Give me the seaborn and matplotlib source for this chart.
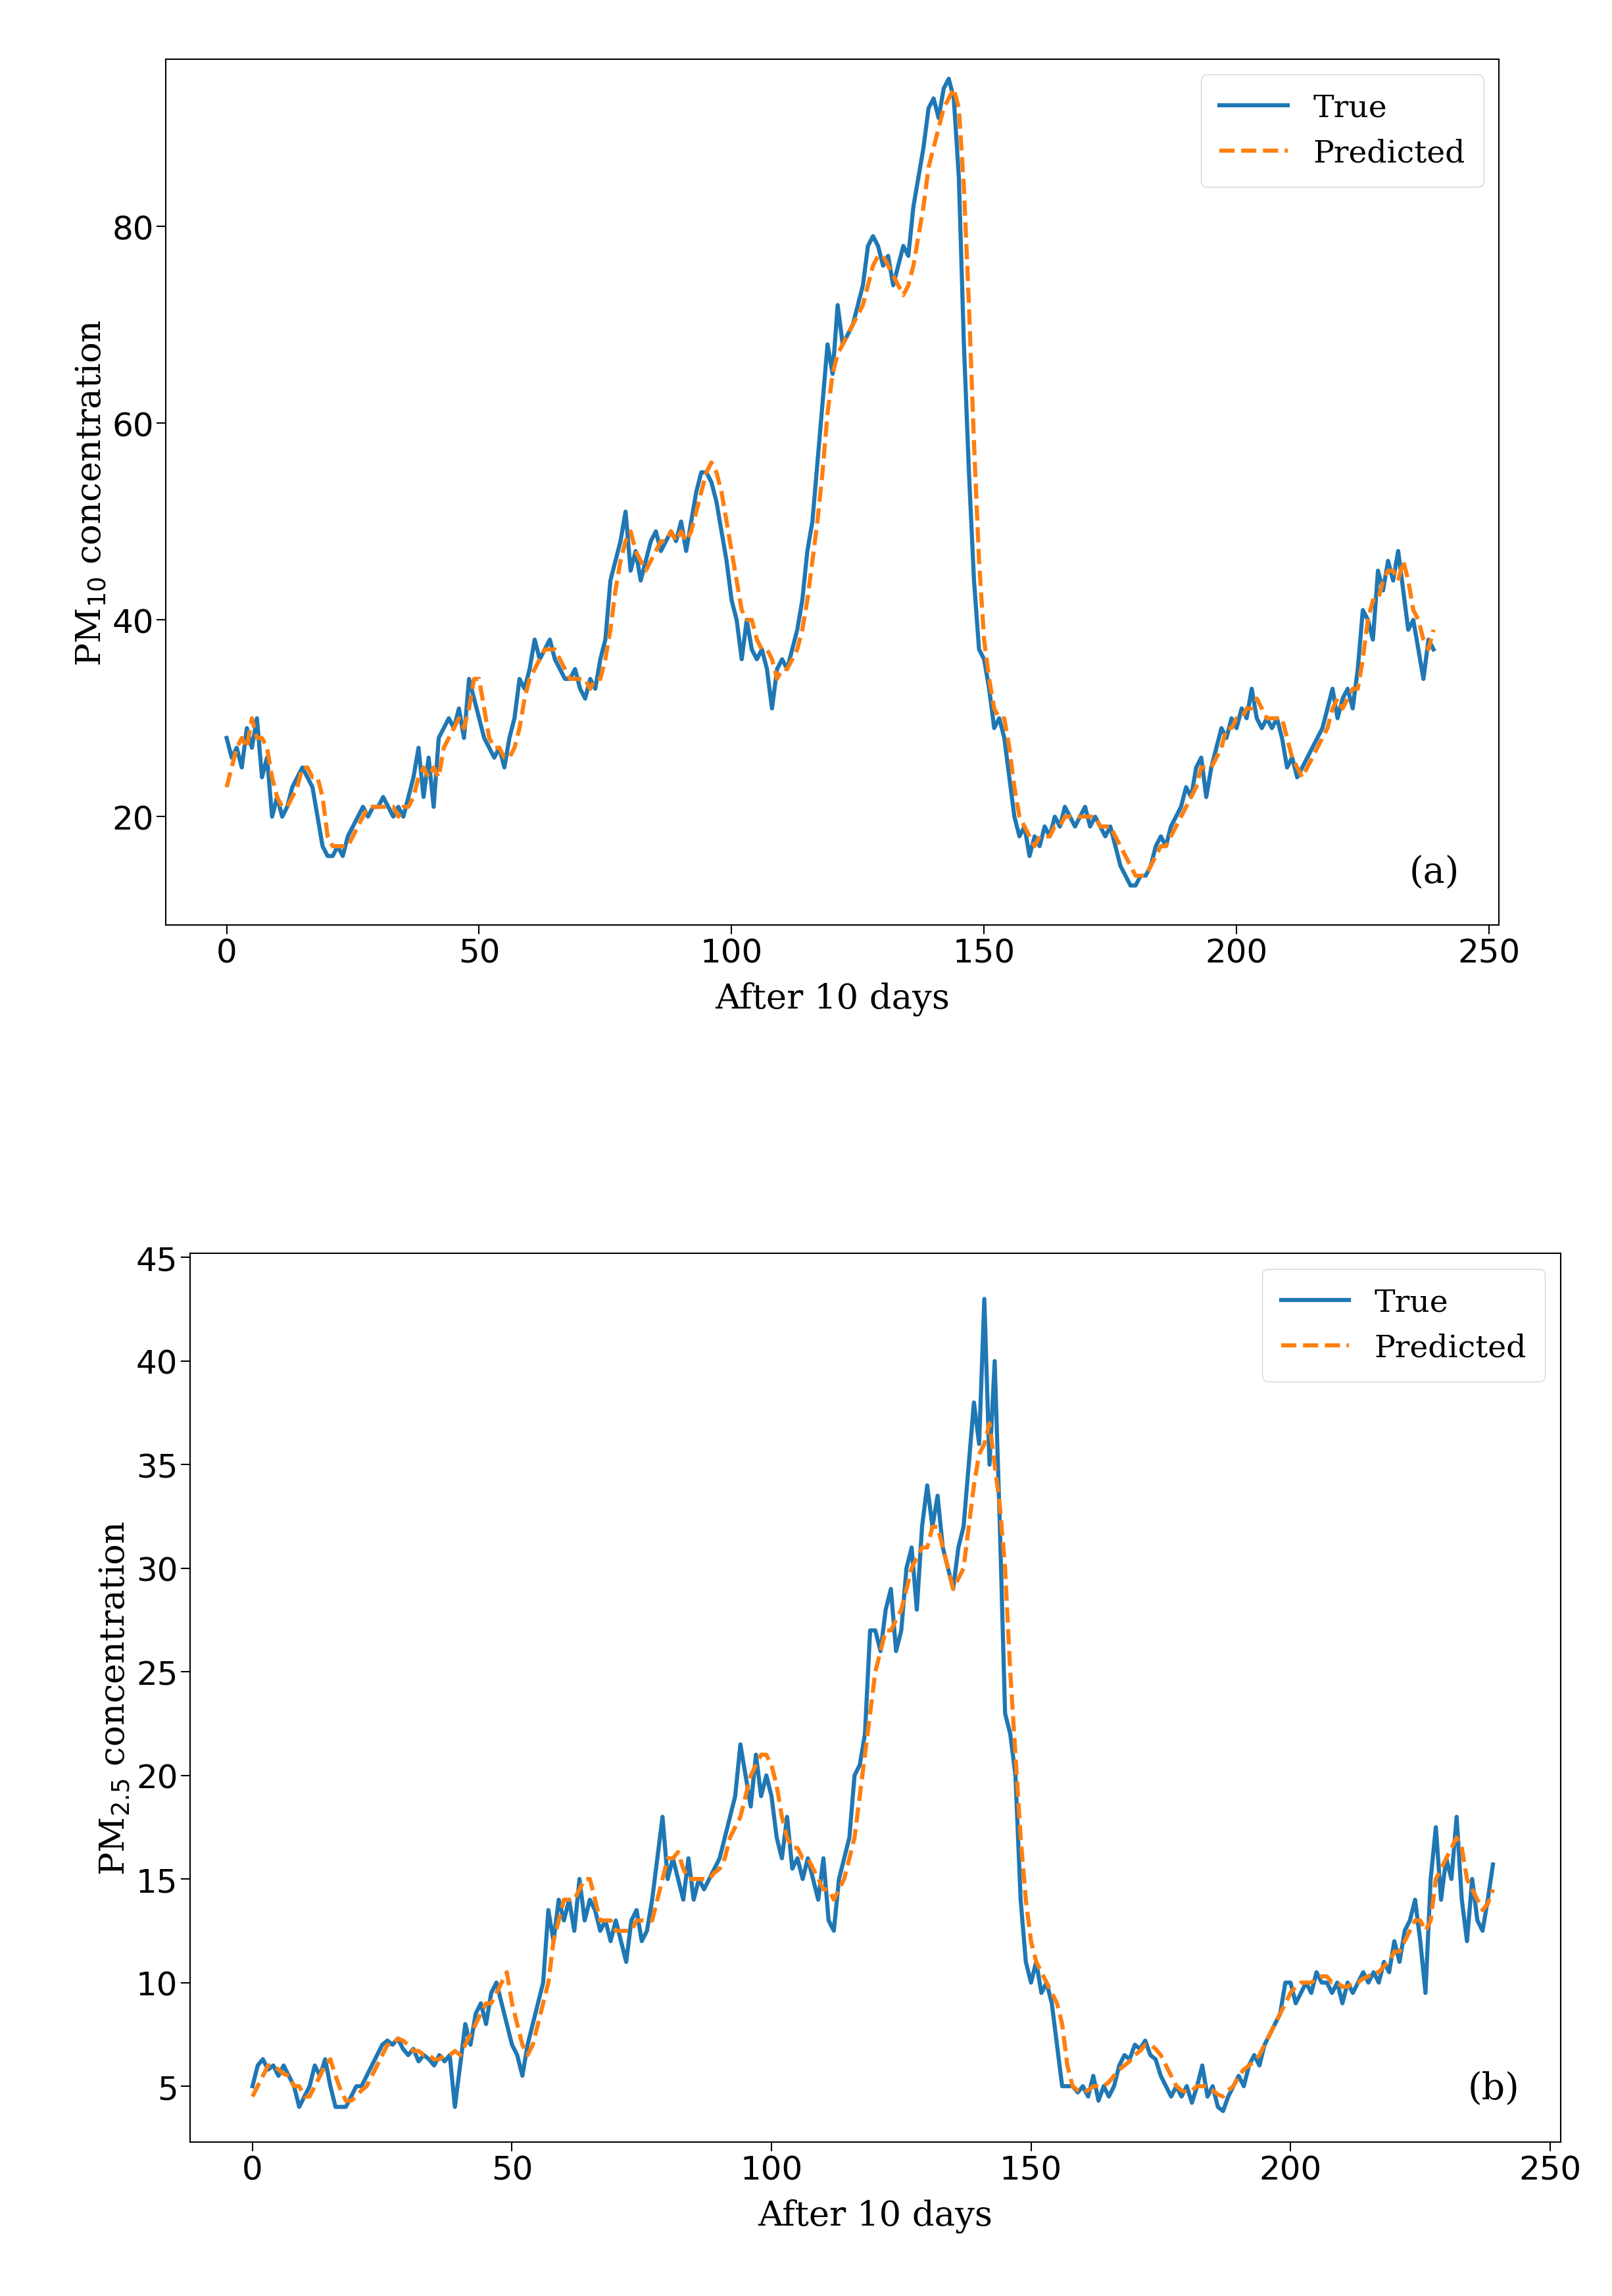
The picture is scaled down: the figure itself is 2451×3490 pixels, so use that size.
import numpy as np
import pandas as pd
import seaborn as sns
import matplotlib.pyplot as plt

# PM10, true values (blocks of 10 days)
pm10_true = [
    28, 26, 27, 25, 29, 27, 30, 24, 26, 20,
    22, 20, 21, 23, 24, 25, 24, 23, 20, 17,
    16, 16, 17, 16, 18, 19, 20, 21, 20, 21,
    21, 22, 21, 20, 21, 20, 22, 24, 27, 22,
    26, 21, 28, 29, 30, 29, 31, 28, 34, 32,
    30, 28, 27, 26, 27, 25, 28, 30, 34, 33,
    35, 38, 36, 37, 38, 36, 35, 34, 34, 35,
    33, 32, 34, 33, 36, 38, 44, 46, 48, 51,
    45, 47, 44, 46, 48, 49, 47, 48, 49, 48,
    50, 47, 50, 53, 55, 55, 54, 52, 49, 46,
    42, 40, 36, 40, 37, 36, 37, 35, 31, 35,
    36, 35, 37, 39, 42, 47, 50, 56, 62, 68,
    65, 72, 68, 69, 70, 72, 74, 78, 79, 78,
    76, 77, 74, 76, 78, 77, 82, 85, 88, 92,
    93, 91, 94, 95, 93, 85, 68, 55, 44, 37,
    36, 33, 29, 30, 28, 24, 20, 18, 19, 16,
    18, 17, 19, 18, 20, 19, 21, 20, 19, 20,
    21, 19, 20, 19, 18, 19, 17, 15, 14, 13,
    13, 14, 14, 15, 17, 18, 17, 19, 20, 21,
    23, 22, 25, 26, 22, 25, 27, 29, 28, 30,
    29, 31, 30, 33, 30, 29, 30, 29, 30, 28,
    25, 26, 24, 25, 26, 27, 28, 29, 31, 33,
    30, 32, 33, 31, 35, 41, 40, 38, 45, 43,
    46, 44, 47, 43, 39, 40, 37, 34, 38, 37,
]
pm10_pred = [
    23, 25, 27, 28, 27, 30, 28, 28, 27, 24,
    22, 21, 21, 22, 23, 25, 25, 24, 24, 22,
    18, 17, 17, 17, 17, 18, 19, 20, 21, 21,
    21, 21, 21, 21, 20, 21, 21, 22, 24, 25,
    24, 25, 24, 27, 28, 29, 30, 29, 31, 34,
    34, 31, 28, 27, 27, 26, 26, 27, 29, 32,
    34, 35, 36, 37, 37, 37, 36, 35, 34, 34,
    34, 34, 33, 34, 34, 36, 39, 43, 46, 48,
    49, 47, 46, 45, 46, 47, 48, 48, 49, 48,
    49, 48, 49, 51, 53, 55, 56, 55, 53, 50,
    47, 44, 41, 40, 40, 38, 37, 37, 36, 34,
    35, 35, 36, 37, 39, 42, 46, 50, 55, 61,
    65, 67, 68, 69, 70, 71, 72, 74, 76, 77,
    77, 76, 75, 74, 73, 74, 76, 79, 82, 86,
    88, 90, 92, 93, 94, 92, 84, 72, 58, 46,
    38, 34, 31, 30, 30, 27, 23, 20, 19, 18,
    17, 18, 18, 18, 19, 19, 20, 20, 20, 20,
    20, 20, 20, 19, 19, 19, 18, 17, 16, 15,
    14, 14, 14, 15, 16, 17, 17, 18, 19, 20,
    21, 22, 23, 25, 25, 25, 26, 27, 29, 29,
    30, 30, 31, 31, 32, 31, 30, 30, 30, 30,
    28, 26, 25, 24, 25, 26, 27, 28, 29, 31,
    32, 31, 32, 33, 33, 36, 40, 42, 42, 44,
    45, 45, 44, 46, 44, 41, 40, 38, 37, 39,
]

# PM2.5
pm25_true = [
    5, 6, 6.3, 5.8, 6, 5.5, 6, 5.5, 5, 4,
    4.5, 5, 6, 5.5, 6.3, 5, 4, 4, 4, 4.5,
    5, 5, 5.5, 6, 6.5, 7, 7.2, 7, 7.3, 6.8,
    6.5, 6.8, 6.2, 6.5, 6.3, 6, 6.5, 6.2, 6.5, 4,
    6, 8, 7, 8.5, 9, 8, 9.5, 10, 9, 8,
    7, 6.5, 5.5, 7, 8, 9, 10, 13.5, 12, 14,
    13, 14, 12.5, 15, 13, 14, 13.5, 12.5, 13, 12,
    13, 12, 11, 13, 13.5, 12, 12.5, 14, 16, 18,
    15, 16, 15, 14, 16, 14, 15, 14.5, 15, 15.5,
    16, 17, 18, 19, 21.5, 20, 18.5, 21, 19, 20,
    19, 17, 16, 18, 15.5, 16, 15, 16, 15, 14,
    16, 13, 12.5, 15, 16, 17, 20, 20.5, 22, 27,
    27, 26, 28, 29, 26, 27, 30, 31, 28, 32,
    34, 32, 33.5, 31, 30, 29, 31, 32, 35, 38,
    36, 43, 35, 40, 32, 23, 22, 20, 14, 11,
    10, 11, 9.5, 10, 9, 7, 5, 5, 5, 4.7,
    5, 4.5, 5.5, 4.3, 5, 4.5, 5, 6, 6.5, 6.3,
    7, 6.8, 7.2, 6.5, 6.3, 5.5, 5, 4.5, 5, 4.5,
    5, 4.2, 5, 6, 4.5, 5, 4, 3.8, 4.5, 5,
    5.5, 5, 6, 6.5, 6, 7, 7.5, 8, 8.5, 10,
    10, 9, 9.5, 10, 9.5, 10.5, 10, 10, 9.5, 10,
    9, 10, 9.5, 10, 10.5, 10, 10.5, 10, 11, 10.5,
    12, 11, 12.5, 13, 14, 12, 9.5, 15, 17.5, 14,
    16, 15, 18, 14, 12, 15, 13, 12.5, 14, 15.7,
]
pm25_pred = [
    4.5, 5, 5.5, 6, 6, 5.8, 5.6, 5.5, 5, 5,
    4.5, 4.5, 5, 5.5, 6, 6.3, 5.5, 4.8, 4.3, 4.3,
    4.5, 4.8, 5, 5.5, 6, 6.5, 7, 7, 7.3, 7.2,
    7, 6.7, 6.7, 6.5, 6.5, 6.3, 6.3, 6.5, 6.5, 6.7,
    6.5, 7, 7.5, 8, 8.5, 9, 9, 9.5, 10, 10.5,
    9, 8, 7, 6.5, 7, 8, 9, 10, 12, 13,
    14, 14, 14, 14.5, 15, 15, 14, 13, 13, 13,
    12.5, 12.5, 12.5, 12.5, 13, 13, 13, 13, 14, 15,
    16, 16, 16.3, 15.5, 15, 15, 15, 15, 15, 15.3,
    15.5, 16, 17, 17.5, 18, 19, 20, 20.5, 21, 21,
    20.5, 19.5, 18, 17, 16.5, 16.5, 16, 16, 15.5, 15,
    14.5, 14.5, 14, 14.5, 15, 16, 17, 19, 21, 23,
    25, 26, 27, 27, 27.5, 28, 29, 30, 30.5, 31,
    31, 32, 32, 31, 30, 29, 29.5, 30, 32, 34,
    35.5, 36, 37, 35, 33, 30, 25, 21, 17, 14,
    12, 11, 10.5, 10, 9.5, 9, 8, 6, 5, 4.8,
    4.7, 4.8, 5, 5, 5, 5.2, 5.5, 5.8, 6, 6.2,
    6.5, 6.7, 7, 7, 6.8, 6.5, 6, 5.5, 5, 4.8,
    4.7, 4.8, 5, 5, 5, 4.8, 4.6, 4.5, 4.8, 5,
    5.5, 5.8, 6, 6.2, 6.5, 7, 7.5, 8, 8.5, 9,
    9.5, 9.8, 10, 10, 10, 10.2, 10.3, 10.3, 10, 10,
    9.8, 9.8, 10, 10, 10.2, 10.3, 10.5, 10.5, 10.8, 11,
    11.5, 11.5, 12, 12.5, 13, 13, 12.5, 13, 15, 15.5,
    16, 16.5, 17, 16.5, 15, 14.5, 14, 13.5, 13.8, 14.5,
]

days = np.arange(len(pm10_true))

BLUE = "#1f77b4"
ORANGE = "#ff7f0e"
SERIF = "DejaVu Serif"

fig = plt.figure(figsize=(24.51, 34.91), dpi=100)
ax_a = fig.add_axes([0.103, 0.597, 0.827, 0.377])
ax_b = fig.add_axes([0.118, 0.067, 0.850, 0.387])

panels = [
    (ax_a, pm10_true, pm10_pred, "PM$_{10}$ concentration", (9, 97), [20, 40, 60, 80], "(a)"),
    (ax_b, pm25_true, pm25_pred, "PM$_{2.5}$ concentration", (2.3, 45.2), [5, 10, 15, 20, 25, 30, 35, 40, 45], "(b)"),
]

for ax, true_vals, pred_vals, ylabel, ylim, yticks, tag in panels:
    df = pd.DataFrame({"day": days, "True": true_vals, "Predicted": pred_vals})
    sns.lineplot(data=df, x="day", y="True", ax=ax, color=BLUE, linewidth=4.5, label="True")
    sns.lineplot(data=df, x="day", y="Predicted", ax=ax, color=ORANGE, linewidth=4.5,
                 linestyle="--", label="Predicted")
    ax.set_xlim(-12, 252)
    ax.set_xticks([0, 50, 100, 150, 200, 250])
    ax.set_ylim(*ylim)
    ax.set_yticks(yticks)
    ax.tick_params(labelsize=36, length=10, width=1.5)
    for s in ax.spines.values():
        s.set_linewidth(1.5)
    ax.set_xlabel("After 10 days", fontsize=38, fontfamily=SERIF, labelpad=14)
    ax.set_ylabel(ylabel, fontsize=38, fontfamily=SERIF, labelpad=4)
    ax.legend(loc="upper right", prop={"family": SERIF, "size": 34},
              handlelength=2.2, borderpad=0.6, fancybox=True)
    ax.text(0.97, 0.04, tag, transform=ax.transAxes, ha="right", va="bottom",
            fontsize=40, fontfamily=SERIF)

plt.savefig("out.png", dpi=100)
plt.close()
